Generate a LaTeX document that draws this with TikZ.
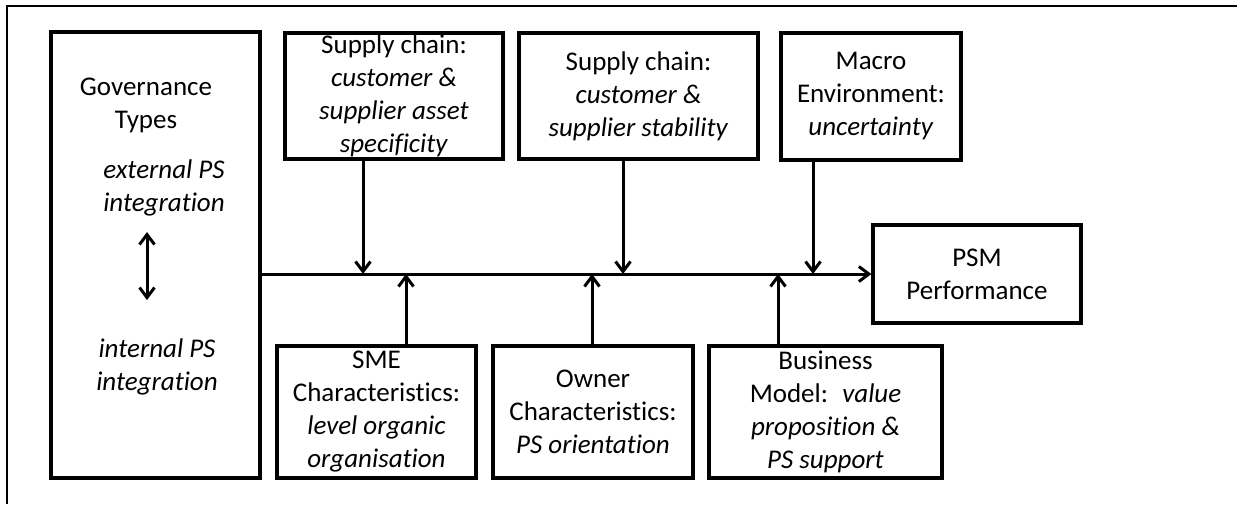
\documentclass[tikz,border=0pt]{standalone}
\usepackage{fontspec}
\setmainfont{Carlito}[Ligatures=NoCommon]
\usetikzlibrary{arrows.meta}

\begin{document}
\begin{tikzpicture}
  [
    x=0.5pt,y=-0.5pt,
    font=\fontsize{13.5}{16.5}\selectfont,
    factor box/.style={draw,line width=1.6pt,inner sep=0,align=center},
    gov text/.style={inner sep=0,align=center},
    link/.style={line width=1.5pt,-{Straight Barb[length=5pt,width=7.5pt]}},
    both link/.style={line width=1.5pt,{Straight Barb[length=5pt,width=7.5pt]}-{Straight Barb[length=5pt,width=7.5pt]}},
  ]
  \useasboundingbox (0,0) rectangle (1237,504);
  \draw[line width=1.1pt] (7,504) -- (7,6) -- (1237,6);

  % governance block
  \node(gov)[factor box,minimum width=104.5pt,minimum height=223pt] at (155.5,255){};
  \node(govtitle)[gov text] at (146,105){Governance\\Types};
  \node(ext)[gov text] at (164,188){\textit{external PS}\\\textit{integration}};
  \node(int)[gov text] at (157,367){\textit{internal PS}\\\textit{integration}};
  \coordinate(up) at (147,232);
  \coordinate(dn) at (147,300);
  \draw[both link] (up) -- (dn);

  % factors above
  \node(sc1)[factor box,minimum width=109pt,minimum height=63pt] at (394,96)
    {Supply chain:\\\textit{customer \&}\\\textit{supplier asset}\\\textit{specificity}};
  \node(sc2)[factor box,minimum width=119.5pt,minimum height=63pt] at (638.5,96)
    {Supply chain:\\\textit{customer \&}\\\textit{supplier stability}};
  \node(macro)[factor box,minimum width=90pt,minimum height=63.5pt] at (871,96.5)
    {Macro\\Environment:\\\textit{uncertainty}};

  % outcome
  \node(psm)[factor box,minimum width=104pt,minimum height=49pt] at (977,274)
    {PSM\\Performance};

  % factors below
  \node(sme)[factor box,minimum width=99.5pt,minimum height=66pt] at (376.5,412)
    {SME\\Characteristics:\\\textit{level organic}\\\textit{organisation}};
  \node(owner)[factor box,minimum width=100pt,minimum height=66pt] at (593,412)
    {Owner\\Characteristics:\\\textit{PS orientation}};
  \node(bm)[factor box,minimum width=116.5pt,minimum height=66pt] at (825.5,412)
    {Business\\Model:~ \textit{value}\\\textit{proposition \&}\\\textit{PS support}};

  % main line and its junctions
  \draw[link] (gov.east |- psm.west) -- (psm.west);
  \coordinate(j1) at (363,274);
  \coordinate(j2) at (623,274);
  \coordinate(j3) at (813,274);
  \coordinate(j4) at (406,274);
  \coordinate(j5) at (592,274);
  \coordinate(j6) at (778,274);
  \draw[link] (sc1.south -| j1) -- (j1);
  \draw[link] (sc2.south -| j2) -- (j2);
  \draw[link] (macro.south -| j3) -- (j3);
  \draw[link] (sme.north -| j4) -- (j4);
  \draw[link] (owner.north -| j5) -- (j5);
  \draw[link] (bm.north -| j6) -- (j6);

\end{tikzpicture}
\end{document}
